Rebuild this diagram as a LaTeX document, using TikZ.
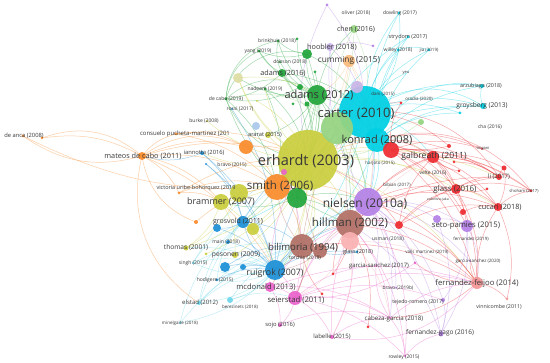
\documentclass[tikz,border=0pt]{standalone}
\usepackage{fontspec}
\setmainfont{Open Sans}
\definecolor{cyanC}{RGB}{0,208,228}
\definecolor{yg}{RGB}{202,206,62}
\definecolor{grn}{RGB}{35,165,60}
\definecolor{lgrn}{RGB}{150,212,130}
\definecolor{orn}{RGB}{250,140,45}
\definecolor{lorn}{RGB}{250,188,125}
\definecolor{pur}{RGB}{180,130,230}
\definecolor{lav}{RGB}{200,180,230}
\definecolor{brn}{RGB}{178,112,102}
\definecolor{redC}{RGB}{238,45,50}
\definecolor{lred}{RGB}{245,150,150}
\definecolor{pnk}{RGB}{235,100,205}
\definecolor{lpnk}{RGB}{250,178,178}
\definecolor{blu}{RGB}{30,145,215}
\definecolor{lblu}{RGB}{170,200,235}
\definecolor{pyel}{RGB}{222,222,165}
\definecolor{ycy}{RGB}{110,215,235}
\tikzset{
  ed/.style={line width=0.5pt, draw opacity=0.42},
  lbl/.style={inner sep=0pt, text=black!78, font=\fontsize{#1}{#1}\selectfont},
}
\begin{document}
\begin{tikzpicture}[x=1pt,y=-1pt]
\useasboundingbox (0,0) rectangle (550,363);
\fill[white] (0,0) rectangle (550,363);
% ---- node positions
\foreach \n/\x/\y in {
erhardt/308/160, carter/365/112, lgbig/337/128, adams12/317/95, konrad/377/140,
redk/391/150, nielsen/368/202, hillman/350/224, lpink/350/241, smith/277/187,
grn2/297/198, pinksm/284/172, bilim/302/246, brn2/320/251, ruigrok/275/270,
mcdonald/270/287, seier/295/298, brammer/221/202, yg2/239/193, grosvold/243/222,
blu2/217/228, yg3/253/229, pesonen/235/255, blu3/225/267, blu4/243/267,
thomas/186/248, ygs/206/254, main/228/242, singh/193/263, hodigere/217/280,
elstad/199/303, berez/230/300, minel/180/323, sojo/280/325, labelle/332/337,
rowley/405/356, cabezad/368/327, cabeza/390/318, fgago/441/334, tejedo/443/300,
bravo19/396/288, gs17/376/266, red273/333/274, red294/322/294, glass18/357/252,
valls/415/263, gs20/470/261, ffeijoo/477/283, vinni/507/299, setop/467/226,
pur2/437/219, red225/399/225, cucari/498/207, red212/463/212, shoham/531/191,
li/499/177, red168/504/168, glass16/456/189, red171/459/171, galb/433/157,
red162/454/162, red146/449/146, red189/487/189, tingani/482/149, groys/483/106,
arzub/482/86, cyb/460/113, oradia/401/103, willey/398/50, jia/429/50,
strydom/408/37, dowling/399/13, oliverd/327/5, pur57/373/46, chen/354/29,
hoobler/330/47, cumming/349/61, lavn/357/87, grn54/307/54, adams16/282/73,
brink/278/41, grn39/297/39, yang/259/51, dobson/280/62, nadeem/265/89,
grn72/315/72, grn87/300/87, grn104/307/104, grn104b/293/104, decabo/226/99,
rossi/232/109, pyel/238/78, burke/207/121, lblu/256/126, ararat/268/135,
yel101/257/101, orn147/246/147, consuelo/176/134, deanca/23/136, deanca2/42/138,
mateos/142/156, iannotta/202/153, bravo15/206/164, victoria/179/193, orn222/196/222,
lgr421/421/122, dani/383/94, yeu/406/73}
  {\coordinate (\n) at (\x,\y);}
% ---- connectors
\foreach \a/\b in {carter/dowling, carter/strydom, carter/willey, carter/jia, carter/yeu,
  carter/arzub, carter/groys, carter/cyb, konrad/groys, konrad/arzub, konrad/willey,
  konrad/jia, konrad/strydom, konrad/dowling, groys/arzub, carter/dani, erhardt/groys,
  erhardt/strydom, carter/galb, carter/ruigrok, konrad/ruigrok, carter/grosvold,
  carter/erhardt, konrad/nielsen, carter/nielsen, carter/hillman, willey/jia, konrad/cyb}
  {\draw[ed, cyanC] (\a) to[bend left=18] (\b);}
\draw[ed, cyanC] (carter) to[bend left=35] (groys);
\draw[ed, cyanC] (konrad) to[bend left=40] (arzub);
\draw[ed, cyanC] (carter) to[bend right=25] (dowling);
\foreach \a/\b in {ruigrok/elstad, ruigrok/minel, ruigrok/singh, ruigrok/hodigere,
  ruigrok/berez, elstad/grosvold, elstad/bilim, minel/grosvold, singh/grosvold,
  singh/bilim, hodigere/bilim, berez/seier, minel/bilim, singh/erhardt, elstad/erhardt,
  berez/bilim, elstad/ruigrok, singh/ruigrok, hodigere/grosvold, thomas/ruigrok}
  {\draw[ed, ycy] (\a) to[bend left=18] (\b);}
\foreach \a/\b in {ruigrok/bilim, ruigrok/grosvold, iannotta/grosvold, iannotta/ruigrok,
  bravo15/ruigrok, grosvold/blu2, blu3/ruigrok, blu4/ruigrok, hodigere/ruigrok,
  main/ruigrok, rossi/ruigrok, grosvold/bilim, ruigrok/hillman, ruigrok/glass18,
  blu3/bilim, iannotta/mateos, ruigrok/carter, grosvold/erhardt, ruigrok/nielsen,
  blu2/ruigrok, glass18/bilim, bravo15/grosvold}
  {\draw[ed, blu] (\a) to[bend left=18] (\b);}
\foreach \a/\b in {adams12/yang, adams12/brink, adams12/nadeem, adams12/dobson,
  adams12/adams16, adams12/grn54, adams12/chen, adams12/grn39, adams16/decabo,
  adams16/yang, adams16/brink, grn54/yang, grn54/brink, nadeem/erhardt,
  adams12/erhardt, grn2/adams12, grn2/erhardt, adams12/konrad, adams12/nielsen,
  adams12/smith, grn87/decabo, grn2/nielsen, grn2/hillman, adams12/hillman,
  adams16/erhardt, grn54/erhardt, adams12/grosvold, grn2/brammer, decabo/smith,
  nadeem/smith, adams12/ararat, grn104/erhardt, grn87/erhardt, adams12/pyel,
  grn72/erhardt, grn54/carter, adams16/carter, grn2/carter}
  {\draw[ed, grn] (\a) to[bend left=18] (\b);}
\draw[ed, grn] (adams12) to[bend right=40] (decabo);
\draw[ed, grn] (yang) to[bend right=30] (decabo);
\draw[ed, grn] (brink) to[bend right=40] (decabo);
\draw[ed, grn] (decabo) to[bend right=30] (erhardt);
\draw[ed, grn] (grn54) to[bend right=45] (decabo);
\draw[ed, grn] (decabo) to[bend right=25] (hillman);
\foreach \a/\b in {lgbig/chen, lgbig/erhardt, lgbig/konrad, lgbig/nielsen, lgbig/adams16,
  chen/carter, lgbig/smith, lgbig/hillman, lgbig/galb, lgr421/carter, lgr421/erhardt,
  chen/erhardt}
  {\draw[ed, lgrn] (\a) to[bend left=18] (\b);}
\draw[ed, lgrn] (lgbig) to[bend right=30] (decabo);
\foreach \a/\b in {erhardt/brammer, erhardt/thomas, erhardt/pesonen, erhardt/ararat,
  erhardt/yg2, erhardt/yg3, erhardt/burke, brammer/thomas, brammer/pesonen,
  erhardt/pyel, yg2/thomas, erhardt/ygs, pyel/adams12, erhardt/hillman,
  erhardt/nielsen, erhardt/bilim, erhardt/konrad, erhardt/smith, erhardt/ruigrok,
  erhardt/galb, erhardt/glass16, yg3/ruigrok, brammer/ruigrok, erhardt/nadeem,
  erhardt/iannotta, erhardt/mcdonald, erhardt/seier, yel101/erhardt, yg2/smith,
  erhardt/ffeijoo, erhardt/cucari, erhardt/li}
  {\draw[ed, yg] (\a) to[bend left=18] (\b);}
\draw[ed, yg] (pyel) to[bend right=20] (erhardt);
\foreach \a/\b in {deanca2/mateos, mateos/consuelo, mateos/victoria, mateos/smith,
  mateos/orn147, mateos/erhardt, consuelo/smith, consuelo/erhardt, victoria/smith,
  victoria/brammer, orn222/smith, mateos/brammer, orn147/smith, smith/erhardt,
  smith/nielsen, smith/hillman, smith/carter, mateos/ruigrok, consuelo/orn147,
  smith/konrad, smith/bilim, orn147/erhardt, victoria/erhardt}
  {\draw[ed, orn] (\a) to[bend left=18] (\b);}
\draw[ed, orn] (deanca) to[bend right=25] (mateos);
\draw[ed, orn] (deanca2) to[bend left=30] (mateos);
\draw[ed, orn] (mateos) to[bend right=30] (orn222);
\draw[ed, orn] (mateos) to[bend right=35] (elstad);
\draw[ed, orn] (mateos) to[bend left=30] (orn147);
\draw[ed, orn] (deanca) to[bend right=15] (smith);
\foreach \a/\b in {cumming/erhardt, cumming/carter, cumming/adams12, cumming/smith, cumming/nielsen}
  {\draw[ed, lorn] (\a) to[bend left=18] (\b);}
\foreach \a/\b in {konrad/galb, konrad/glass16, redk/galb, galb/cucari, galb/li,
  galb/red168, glass16/cucari, glass16/shoham, glass16/li, hillman/ffeijoo,
  nielsen/ffeijoo, redk/ffeijoo, red225/ffeijoo, galb/ffeijoo, ffeijoo/vinni,
  ffeijoo/cucari, ffeijoo/gs20, hillman/galb, hillman/glass16, redk/tingani,
  redk/oradia, redk/li, cucari/shoham, red225/cucari, red225/glass16, nielsen/glass16,
  nielsen/cucari, galb/glass16, hillman/cabezad, redk/cucari, galb/shoham, li/red168,
  red168/cucari, konrad/tingani, carter/oradia, red225/galb, red225/li, hillman/red225,
  ffeijoo/cabeza, redk/setop, galb/setop, cucari/vinni, glass16/ffeijoo, red162/li,
  ffeijoo/valls, erhardt/red225, hillman/li, nielsen/galb, bilim/ffeijoo,
  red212/cucari, red171/galb, red146/konrad, red189/glass16, red273/hillman,
  red294/bilim, redk/red212, hillman/red273, carter/red146, konrad/li, redk/shoham}
  {\draw[ed, redC] (\a) to[bend left=18] (\b);}
\draw[ed, redC] (konrad) to[bend left=35] (shoham);
\draw[ed, redC] (carter) to[bend left=30] (li);
\foreach \a/\b in {seier/labelle, seier/cabeza, seier/rowley, mcdonald/sojo, seier/sojo,
  cabeza/rowley, mcdonald/cabeza, hillman/labelle, ruigrok/seier, seier/ffeijoo,
  cabeza/ffeijoo, mcdonald/ffeijoo, nielsen/rowley, hillman/cabeza, seier/gs17,
  mcdonald/seier, pinksm/seier, labelle/cabeza, seier/nielsen, seier/hillman,
  mcdonald/hillman, cabeza/gs17, rowley/fgago, sojo/cabeza, seier/tejedo,
  hillman/rowley, pinksm/erhardt, mcdonald/erhardt, labelle/nielsen, valls/seier}
  {\draw[ed, pnk] (\a) to[bend left=18] (\b);}
\draw[ed, pnk] (labelle) to[bend right=30] (ffeijoo);
\foreach \a/\b in {lpink/ffeijoo, lpink/cabeza, lpink/labelle, lpink/seier, lpink/galb}
  {\draw[ed, lpnk] (\a) to[bend left=18] (\b);}
\foreach \a/\b in {nielsen/hoobler, nielsen/setop, nielsen/tejedo, nielsen/fgago,
  setop/fgago, nielsen/gs17, hoobler/erhardt, nielsen/pur2, tejedo/fgago,
  nielsen/cabeza, hoobler/pur57, nielsen/gs20, setop/tejedo, pur2/fgago,
  nielsen/bravo19, hillman/fgago, nielsen/valls, setop/ffeijoo, hoobler/carter,
  oliverd/carter, lavn/nielsen, lavn/erhardt, lavn/carter, pur2/setop}
  {\draw[ed, pur] (\a) to[bend left=18] (\b);}
\draw[ed, pur] (oliverd) to[bend right=20] (erhardt);
\foreach \a/\b in {bilim/hillman, bilim/ruigrok, hillman/nielsen, brn2/hillman,
  bilim/erhardt, bilim/smith, bilim/seier, bilim/carter, hillman/carter, brn2/ruigrok,
  brn2/erhardt}
  {\draw[ed, brn] (\a) to[bend left=18] (\b);}
% ---- circles
\foreach \n/\r/\c in {
erhardt/30/yg, carter/26/cyanC, lgbig/16/lgrn, adams12/10/grn, konrad/12/cyanC,
redk/8/redC, nielsen/14/pur, hillman/14/brn, lpink/9/lpnk, smith/13/orn,
grn2/10/grn, pinksm/3/pnk, bilim/12/brn, brn2/7/brn, ruigrok/10/blu,
mcdonald/5/pnk, seier/7/pnk, brammer/8/yg, yg2/9/yg, grosvold/6/blu,
blu2/4/blu, yg3/6/yg, pesonen/3/yg, blu3/5/blu, blu4/3/blu,
thomas/2.5/yg, ygs/1.5/yg, main/2/blu, singh/1.2/ycy, hodigere/1.5/blu,
elstad/2/ycy, berez/3/ycy, minel/1.2/ycy, sojo/2/pnk, labelle/2/pnk,
rowley/1.2/pnk, cabezad/1.5/redC, cabeza/1/pnk, fgago/2.5/pur, tejedo/2/pur,
bravo19/1/pur, gs17/1/pnk, red273/1.5/redC, red294/1.5/redC, glass18/1.5/blu,
valls/1.5/pnk, gs20/1/pur, ffeijoo/6/lred, vinni/1.5/lred, setop/6/pur,
pur2/4/pur, red225/4/redC, cucari/4/redC, red212/3/redC, shoham/1.5/redC,
li/3/redC, red168/2.5/redC, glass16/5/redC, red171/1.5/redC, galb/6/redC,
red162/1.5/redC, red146/2/redC, red189/1.5/redC, tingani/1/redC, groys/3/cyanC,
arzub/2/cyanC, cyb/1.5/cyanC, oradia/1.5/redC, willey/1.5/cyanC, jia/1.5/cyanC,
strydom/1.5/cyanC, dowling/1.5/cyanC, oliverd/1.5/pur, pur57/1.5/pur, chen/4/lgrn,
hoobler/4/lav, cumming/6/lorn, lavn/6/lav, grn54/5/grn, adams16/4/grn,
brink/1.5/grn, grn39/1.5/grn, yang/1.5/grn, dobson/1.2/grn, nadeem/1.5/grn,
grn72/1.5/grn, grn87/3/grn, grn104/2.5/grn, grn104b/1.5/grn, decabo/1.5/grn,
rossi/1/blu, pyel/5/pyel, burke/1.2/yg, lblu/4/lblu, ararat/3/yg,
yel101/1/yg, orn147/7/orn, consuelo/1.5/orn, deanca/1.5/orn, deanca2/1.5/orn,
mateos/4/orn, iannotta/2/blu, bravo15/1.2/blu, victoria/1.5/orn, orn222/2/orn,
lgr421/3/lgrn}
  {\fill[\c, fill opacity=0.93] (\n) circle[radius=\r];}
% ---- labels
\foreach \n/\x/\y/\s/\t in {
erhardt/306/161/14.5/{erhardt (2003)}, carter/356/114/13/{carter (2010)},
adams12/319/95/11/{adams (2012)}, konrad/377/140/11/{konrad (2008)},
nielsen/365/204/12/{nielsen (2010a)}, hillman/350/223/11.5/{hillman (2002)},
smith/280/186/11.5/{smith (2006)}, bilim/303/248/9.6/{bilimoria (1994)},
ruigrok/275/273/8.8/{ruigrok (2007)}, mcdonald/266/287/7.6/{mcdonald (2013)},
seier/296/300/7.7/{seierstad (2011)}, brammer/221/202/9/{brammer (2007)},
grosvold/238/222/7/{grosvold (2011)}, pesonen/236/255/6.7/{pesonen (2009)},
thomas/186/248/6.6/{thomas (2001)}, main/226/242/5/{main (2018)},
singh/193/263/5/{singh (2015)}, hodigere/215/280/5/{hodigere (2015)},
elstad/200/303/6/{elstad (2012)}, berez/240/307/4.5/{berezinets (2018)},
minel/180/323/4.5/{minelgaite (2018)}, sojo/280/325/5.8/{sojo (2016)},
labelle/332/337/6/{labelle (2015)}, rowley/404/357/5/{rowley (2015)},
cabeza/394/319/6.2/{cabeza-garcia (2018)}, fgago/440/333/6.5/{fernandez-gago (2016)},
tejedo/418/302/5.2/{tejedo-romero (2017)}, bravo19/398/288/4.8/{bravo (2019b)},
gs17/379/266/6/{garcia-sanchez (2017)}, glass18/358/252/5.5/{glass (2018)},
torchia/305/258/5/{torchia (2018)}, valls/427/252/4.5/{valls martinez (2019)},
gs20/478/261/4.5/{garcia-sanchez (2020)}, ffeijoo/477/283/7.7/{fernandez-feijoo (2014)},
vinni/499/307/5.3/{vinnicombe (2011)}, fernandez/471/239/4.5/{fernandez (2019)},
usman/388/239/5/{usman (2018)}, setop/466/226/7.7/{seto-pamies (2015)},
cucari/500/207/7.3/{cucari (2018)}, shoham/524/191/4.2/{shoham (2017)},
li/499/177/6/{li (2017)}, glass16/455/189/7.9/{glass (2016)},
velte/433/173/5/{velte (2016)}, galb/434/156/8.6/{galbreath (2011)},
cha/490/127/5/{cha (2016)}, tingani/483/149/4/{tingani},
harjoto/380/163/4.5/{harjoto (2015)}, bib/397/185/4.5/{bibian (2017)},
zubel/438/200/3.5/{zubeltzu-jaka}, groys/482/106/6.6/{groysberg (2013)},
arzub/481/86/5.4/{arzubiaga (2018)}, yeu/406/73/4/{yeu},
oradia/419/99/4.5/{oradia (2020)}, dani/383/94/4.5/{dani (2015)},
willey/398/50/5/{willey (2018)}, jia/429/50/4.5/{jia (2019)},
strydom/408/37/5.5/{strydom (2017)}, dowling/400/13/5/{dowling (2017)},
oliver/356/13/5/{oliver (2018)}, chen/356/29/7/{chen (2016)},
hoobler/332/47/7.3/{hoobler (2018)}, cumming/349/60/8.3/{cumming (2015)},
adams16/283/73/7.2/{adams (2016)}, brink/277/41/5/{brinkhuis (2018)},
yang/258/51/5/{yang (2019)}, dobson/290/62/5/{dobson (2018)},
nadeem/265/89/5/{nadeem (2019)}, decabo/226/99/5/{de cabo (2019)},
rossi/240/109/5/{rossi (2017)}, burke/204/121/5/{burke (2008)},
ararat/265/135/5.7/{ararat (2015)}, consuelo/185/134/6/{consuelo pucheta-martinez (201},
deanca/24/136/5.8/{de anca (2008)}, mateos/143/156/7.3/{mateos de cabo (2011)},
iannotta/204/153/5.8/{iannotta (2016)}, bravo15/232/165/5/{bravo (2015)},
victoria/196/188/5.5/{victoria uribe-bohorquez (2019}}
  {\node[lbl=\s] (\n-l) at (\x,\y) {\t};}
\end{tikzpicture}
\end{document}
